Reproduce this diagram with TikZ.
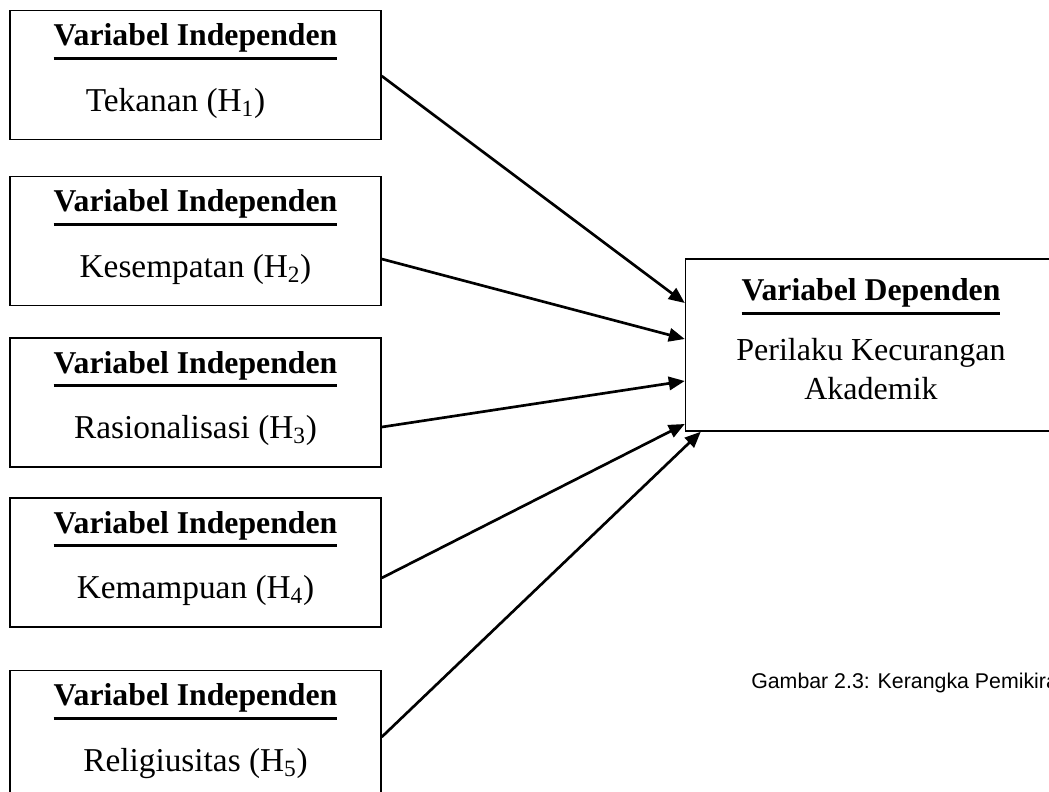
\documentclass[tikz,border=0pt]{standalone}
\usepackage{fontspec}
\setmainfont{Liberation Serif}
\newfontfamily\captionfont{Liberation Sans}
\usepackage{tikz}
\usetikzlibrary{positioning,calc,arrows.meta}
\tikzstyle{indep}=[rectangle,draw=black,line width=1.1pt,fill=white,minimum width=278.25pt,minimum height=97pt,inner sep=0pt]
\tikzstyle{dep}=[rectangle,draw=black,line width=1.1pt,fill=white,minimum width=278.25pt,minimum height=129pt,inner sep=0pt]
\tikzstyle{isi}=[align=center,inner sep=0pt,font=\fontsize{25}{29}\selectfont]
\tikzstyle{mypath}=[line width=2pt,-{Triangle[length=12pt,width=10pt]}]
\newcommand{\judul}[1]{{\fontsize{23.8}{28.5}\selectfont\setbox0\hbox{\textbf{#1}}\rlap{\rule[-10.5pt]{\wd0}{2.2pt}}\box0}}
\def\judulgap{20pt}

\begin{document}
\begin{tikzpicture}[x=0.75pt,y=-0.75pt]
		\clip (0,0) rectangle (1049,792);
		\useasboundingbox (0,0) rectangle (1049,792);

		% independent variables
		\node[indep] (tekanan) at (195.5,75) {};
		\node[indep] (kesempatan) at (195.5,241) {};
		\node[indep] (rasional) at (195.5,402.5) {};
		\node[indep] (kemampuan) at (195.5,562.5) {};
		\node[indep] (religi) at (195.5,735) {};
		%% texts
		\node[isi] (tekanan-isi) at ([yshift=3pt]tekanan.center) {\judul{Variabel Independen}\\[\judulgap] \mbox{Tekanan (H\textsubscript{1})\hspace{30pt}}};
		\node[isi] (kesempatan-isi) at ([yshift=3pt]kesempatan.center) {\judul{Variabel Independen}\\[\judulgap] Kesempatan (H\textsubscript{2})};
		\node[isi] (rasional-isi) at ([yshift=3pt]rasional.center) {\judul{Variabel Independen}\\[\judulgap] Rasionalisasi (H\textsubscript{3})};
		\node[isi] (kemampuan-isi) at ([yshift=3pt]kemampuan.center) {\judul{Variabel Independen}\\[\judulgap] Kemampuan (H\textsubscript{4})};
		\node[isi] (religi-isi) at ([yshift=3pt]religi.center) {\judul{Variabel Independen}\\[\judulgap] Religiusitas (H\textsubscript{5})};

		% dependent variable
		\node[dep] (perilaku) at (871,345) {};
		\node[isi,font=\fontsize{24}{29}\selectfont] (perilaku-isi) at ([yshift=4.5pt]perilaku.center) {\judul{Variabel Dependen}\\[16pt] Perilaku Kecurangan\\ Akademik};

		% caption
		\node[anchor=base west,inner sep=0pt,font=\captionfont\fontsize{16}{19}\selectfont] (gambar) at (751,688) {Gambar 2.3: Kerangka Pemikiran};

		% Connections
		\draw[mypath] ([yshift=-0.75pt]tekanan.east) -- ([yshift=31.5pt]perilaku.west);
		\draw[mypath] ([yshift=-13.5pt]kesempatan.east) -- ([yshift=4.5pt]perilaku.west);
		\draw[mypath] ([yshift=-18.4pt]rasional.east) -- ([yshift=-27pt]perilaku.west);
		\draw[mypath] ([yshift=-11.6pt]kemampuan.east) -- ([yshift=-59.25pt]perilaku.west);
		\draw[mypath] ([yshift=-1.5pt]religi.east) -- ([xshift=12pt]perilaku.south west);
	\end{tikzpicture}
\end{document}
